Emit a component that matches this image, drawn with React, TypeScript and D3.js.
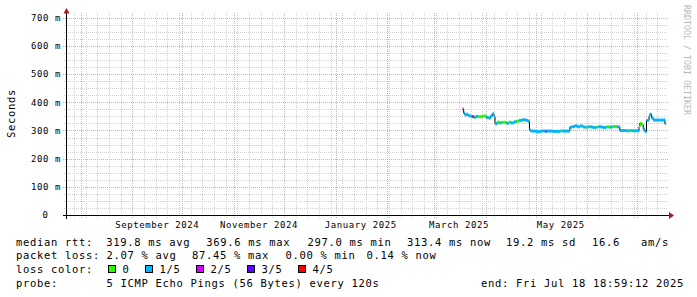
import React from "react";
import * as d3 from "d3";

// ---- data ----
const END_TIME = "2025-07-18T18:59:12Z";
const SPAN_DAYS = 360;

const yTickValues = [0, 100, 200, 300, 400, 500, 600, 700];
const yTickLabels = ["0", "100 m", "200 m", "300 m", "400 m", "500 m", "600 m", "700 m"];

const xLabelMonths = ["2024-09-01", "2024-11-01", "2025-01-01", "2025-03-01", "2025-05-01"];
const xLabelTexts = ["September 2024", "November 2024", "January 2025", "March 2025", "May 2025"];

const sampleTimes = [
  "2025-03-18T04:00Z", "2025-03-18T18:00Z", "2025-03-19T12:00Z", "2025-03-20T12:00Z",
  "2025-03-21T12:00Z", "2025-03-22T12:00Z", "2025-03-24T00:00Z", "2025-03-25T00:00Z",
  "2025-03-26T00:00Z", "2025-03-27T12:00Z", "2025-03-30T00:00Z", "2025-04-01T12:00Z",
  "2025-04-03T00:00Z", "2025-04-04T00:00Z", "2025-04-05T00:00Z", "2025-04-06T00:00Z",
  "2025-04-06T14:00Z", "2025-04-08T00:00Z", "2025-04-09T00:00Z", "2025-04-10T12:00Z",
  "2025-04-13T12:00Z", "2025-04-15T00:00Z", "2025-04-16T00:00Z", "2025-04-18T00:00Z",
  "2025-04-19T12:00Z", "2025-04-21T00:00Z", "2025-04-23T00:00Z", "2025-04-25T00:00Z",
  "2025-04-26T12:00Z", "2025-04-27T06:00Z", "2025-04-28T00:00Z", "2025-05-01T00:00Z",
  "2025-05-04T00:00Z", "2025-05-07T00:00Z", "2025-05-07T14:00Z", "2025-05-11T00:00Z",
  "2025-05-16T00:00Z", "2025-05-17T00:00Z", "2025-05-21T12:00Z", "2025-05-23T00:00Z",
  "2025-05-24T12:00Z", "2025-05-26T00:00Z", "2025-05-27T12:00Z", "2025-05-29T12:00Z",
  "2025-05-31T12:00Z", "2025-06-01T12:00Z", "2025-06-04T00:00Z", "2025-06-06T12:00Z",
  "2025-06-07T12:00Z", "2025-06-10T00:00Z", "2025-06-12T12:00Z", "2025-06-14T00:00Z",
  "2025-06-16T00:00Z", "2025-06-18T12:00Z", "2025-06-20T12:00Z", "2025-06-24T00:00Z",
  "2025-06-26T12:00Z", "2025-06-27T12:00Z", "2025-07-02T00:00Z", "2025-07-02T12:00Z",
  "2025-07-03T12:00Z", "2025-07-04T12:00Z", "2025-07-05T12:00Z", "2025-07-06T12:00Z",
  "2025-07-08T00:00Z", "2025-07-08T12:00Z", "2025-07-09T12:00Z", "2025-07-10T12:00Z",
  "2025-07-17T00:00Z", "2025-07-17T12:00Z",
];
const seriesEndTime = "2025-07-18T06:00Z";

const medianMs = [
  376, 362, 355, 358, 353, 351, 349, 347,
  350, 349, 351, 346, 344, 352, 359, 350,
  324, 330, 327, 329, 326, 330, 327, 331,
  333, 336, 338, 336, 333, 302, 298, 296,
  298, 297, 298, 297, 299, 298, 312, 314,
  317, 313, 316, 312, 311, 313, 311, 312,
  313, 311, 313, 312, 314, 313, 300, 299,
  300, 299, 312, 326, 320, 305, 296, 336,
  350, 358, 345, 337, 338, 325,
];

const lossLevel = [
  2, 1, 1, 1, 1, 1, 4, 1,
  1, 0, 0, 1, 1, 1, 1, 1,
  1, 0, 1, 0, 1, 0, 1, 1,
  0, 1, 1, 1, 1, 1, 1, 1,
  1, 3, 1, 1, 0, 1, 1, 1,
  1, 1, 1, 1, 0, 1, 1, 0,
  1, 1, 0, 1, 0, 1, 1, 1,
  0, 1, 0, 0, 0, 1, 1, 1,
  1, 1, 1, 1, 1, 1,
];

const lossLabels = ["0", "1/5", "2/5", "3/5", "4/5"];
const lossColors = ["#26ff00", "#00b8ff", "#d400ff", "#5e00ff", "#ff0000"];

const rttLegend = ["median rtt:", "319.8 ms avg", "369.6 ms max", "297.0 ms min", "313.4 ms now", "19.2 ms sd", "16.6   am/s"];
const lossLegend = ["packet loss:", "2.07 % avg", "87.45 % max", "0.00 % min", "0.14 % now"];
const probeLegend = ["probe:", "5 ICMP Echo Pings (56 Bytes) every 120s"];
const endLegend = "end: Fri Jul 18 18:59:12 2025";
const lossColorTitle = "loss color:";
const yTitle = "Seconds";
const watermark = "RRDTOOL / TOBI OETIKER";

// ---- layout ----
const W = 697;
const H = 297;
const MONO = "'DejaVu Sans Mono', monospace";

export default function App() {
  const end = new Date(END_TIME);
  const start = new Date(end.getTime() - SPAN_DAYS * 86400000);
  const x = d3.scaleUtc().domain([start, end]).range([67, 667]);
  const y = d3.scaleLinear().domain([0, 710]).range([215, 15]);

  const months = d3.utcMonth.range(d3.utcMonth.ceil(start), end);
  const weeks = d3.utcSunday.range(d3.utcSunday.ceil(start), end);
  const minorY = d3.range(25, 710, 25).filter((v) => v % 100 !== 0);
  const majorY = yTickValues.filter((v) => v > 0);

  const times = sampleTimes.map((s) => new Date(s));
  const seriesEnd = new Date(seriesEndTime);
  const pts: [Date, number][] = times.map((t, i) => [t, medianMs[i]]);
  pts.push([seriesEnd, medianMs[medianMs.length - 1]]);
  const line = d3
    .line<[Date, number]>()
    .x((d) => x(d[0]))
    .y((d) => y(d[1]))
    .curve(d3.curveStepAfter);

  const legendFont = { fontFamily: MONO, fontSize: 10.5, letterSpacing: 0.68 } as const;
  const axisFont = { fontFamily: MONO, fontSize: 9, letterSpacing: 0.58 } as const;

  const rttX = [16, 106.3, 206.3, 307.5, 407, 506, 592];
  const lossX = [16, 106.5, 192, 285.5, 366.5];
  const boxX = [108, 145, 196, 247, 298];

  return (
    <svg
      width={W}
      height={H}
      viewBox={`0 0 ${W} ${H}`}
      style={{ position: "absolute", left: 0, top: 0, display: "block", background: "#fff" }}
    >
      <rect x={0} y={0} width={W} height={H} fill="#fff" />

      {/* minor grid */}
      <g stroke="#d2d2d2" strokeWidth={1} strokeDasharray="1,1" shapeRendering="crispEdges">
        {weeks.map((d, i) => (
          <line key={"w" + i} x1={Math.round(x(d)) + 0.5} x2={Math.round(x(d)) + 0.5} y1={13} y2={218} />
        ))}
        {minorY.map((v) => (
          <line key={"my" + v} x1={64} x2={668} y1={Math.round(y(v)) + 0.5} y2={Math.round(y(v)) + 0.5} />
        ))}
      </g>
      {/* major grid */}
      <g stroke="#eaa4a4" strokeWidth={1} strokeDasharray="1,1" shapeRendering="crispEdges">
        {months.map((d, i) => (
          <line key={"m" + i} x1={Math.round(x(d)) + 0.5} x2={Math.round(x(d)) + 0.5} y1={13} y2={219} />
        ))}
        {majorY.map((v) => (
          <line key={"My" + v} x1={63} x2={668} y1={Math.round(y(v)) + 0.5} y2={Math.round(y(v)) + 0.5} />
        ))}
      </g>

      {/* median line and loss coloured band */}
      <path d={line(pts) || ""} fill="none" stroke="#000" strokeWidth={1} />
      {times.map((t, i) => {
        const x0 = x(t);
        const x1 = x(i + 1 < times.length ? times[i + 1] : seriesEnd);
        return (
          <rect
            key={"s" + i}
            x={x0}
            width={Math.max(1, x1 - x0)}
            y={y(medianMs[i]) - 1.5}
            height={3}
            fill={lossColors[lossLevel[i]]}
          />
        );
      })}

      {/* axes */}
      <g stroke="#000" strokeWidth={1} shapeRendering="crispEdges">
        <line x1={63} x2={670} y1={215.5} y2={215.5} />
        <line x1={66.5} x2={66.5} y1={12} y2={219} />
      </g>
      <polygon points="669,212 674,215.5 669,219" fill="#a51b1b" />
      <polygon points="63.5,13.5 66.5,8 69.5,13.5" fill="#a51b1b" />

      {/* y tick labels */}
      <g style={axisFont} fill="#000">
        {yTickValues.map((v, i) => (
          <text key={"yl" + v} x={v === 0 ? 48.5 : 61} y={y(v) + 3.3} textAnchor="end">
            {yTickLabels[i]}
          </text>
        ))}
      </g>

      {/* x labels */}
      <g style={axisFont} fill="#000">
        {xLabelMonths.map((m, i) => (
          <text key={"xl" + i} x={x(d3.utcDay.offset(new Date(m + "T00:00Z"), 15))} y={228} textAnchor="middle">
            {xLabelTexts[i]}
          </text>
        ))}
      </g>

      {/* y title */}
      <text
        transform="translate(14.5,113.5) rotate(-90)"
        textAnchor="middle"
        style={legendFont}
        fill="#000"
      >
        {yTitle}
      </text>

      {/* watermark */}
      <text
        transform="translate(684,5) rotate(90)"
        style={{ fontFamily: MONO, fontSize: 8.3, letterSpacing: 0 }}
        fill="#b8b8b8"
      >
        {watermark}
      </text>

      {/* legend */}
      <g style={legendFont} fill="#000">
        {rttLegend.map((s, i) => (
          <text key={"r" + i} x={rttX[i]} y={245.5} xmlSpace="preserve" style={{ whiteSpace: "pre" }}>
            {s}
          </text>
        ))}
        {lossLegend.map((s, i) => (
          <text key={"l" + i} x={lossX[i]} y={259.3}>
            {s}
          </text>
        ))}
        <text x={16} y={273}>{lossColorTitle}</text>
        {lossLabels.map((s, i) => (
          <g key={"lc" + i}>
            <rect x={boxX[i] + 0.5} y={265.5} width={7} height={7} fill={lossColors[i]} stroke="#000" strokeWidth={1} />
            <text x={boxX[i] + 14.6} y={273}>{s}</text>
          </g>
        ))}
        <text x={16} y={286.8}>{probeLegend[0]}</text>
        <text x={106.5} y={286.8}>{probeLegend[1]}</text>
        <text x={684} y={286.8} textAnchor="end">{endLegend}</text>
      </g>
    </svg>
  );
}
